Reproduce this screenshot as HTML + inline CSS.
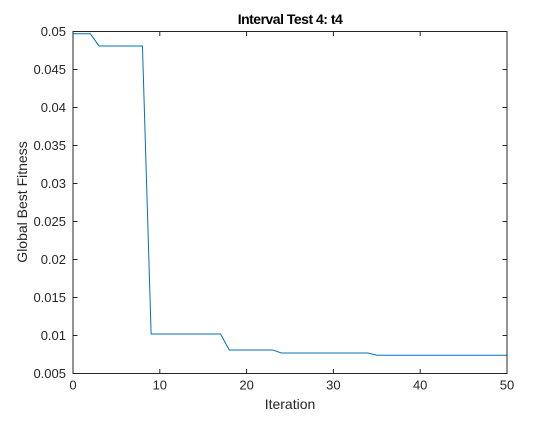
<!DOCTYPE html>
<html><head><meta charset="utf-8"><style>
body{margin:0;background:#fff;width:560px;height:420px;overflow:hidden}
svg text{font-family:"Liberation Sans",Arial,sans-serif}
</style></head><body>
<svg id="chart" width="560" height="420" xmlns="http://www.w3.org/2000/svg">
<rect x="0" y="0" width="560" height="420" fill="#fff"/>
<g id="ticks"></g>
<polyline id="series" fill="none" stroke="#0072bd" stroke-width="1"/>
<rect x="73" y="31.5" width="434" height="342" fill="none" stroke="#262626" stroke-width="1"/>
<text x="290" y="24" font-size="14" font-weight="bold" text-anchor="middle" fill="#000" letter-spacing="-0.5">Interval Test 4: t4</text>
<text x="290" y="409" font-size="14" text-anchor="middle" fill="#262626">Iteration</text>
<text transform="translate(27,202) rotate(-90)" font-size="14" text-anchor="middle" fill="#262626">Global Best Fitness</text>
</svg>
<script>
const iterations=[0,1,2,3,4,5,6,7,8,9,10,11,12,13,14,15,16,17,18,19,20,21,22,23,24,25,26,27,28,29,30,31,32,33,34,35,36,37,38,39,40,41,42,43,44,45,46,47,48,49,50];
const fitness=[0.0497,0.0497,0.0497,0.0481,0.0481,0.0481,0.0481,0.0481,0.0481,0.0102,0.0102,0.0102,0.0102,0.0102,0.0102,0.0102,0.0102,0.0102,0.0081,0.0081,0.0081,0.0081,0.0081,0.0081,0.0077,0.0077,0.0077,0.0077,0.0077,0.0077,0.0077,0.0077,0.0077,0.0077,0.0077,0.0074,0.0074,0.0074,0.0074,0.0074,0.0074,0.0074,0.0074,0.0074,0.0074,0.0074,0.0074,0.0074,0.0074,0.0074,0.0074];
const xTicks=[0,10,20,30,40,50];
const yTicks=[0.005,0.01,0.015,0.02,0.025,0.03,0.035,0.04,0.045,0.05];
const yTickLabels=["0.005","0.01","0.015","0.02","0.025","0.03","0.035","0.04","0.045","0.05"];
const X0=73,X1=507,Y0=373.5,Y1=31.5;
const sx=v=>X0+(v-0)/(50-0)*(X1-X0);
const sy=v=>Y0-(v-0.005)/(0.05-0.005)*(Y0-Y1);
const NS="http://www.w3.org/2000/svg";
const g=document.getElementById('ticks');
function mk(t,a){const e=document.createElementNS(NS,t);for(const k in a)e.setAttribute(k,a[k]);g.appendChild(e);return e;}
xTicks.forEach(v=>{const x=sx(v);
 const t1=mk('line',{x1:x,x2:x,y1:Y0,y2:Y0-4.5,stroke:'#262626'});
 
 
 const t2=mk('line',{x1:x,x2:x,y1:Y1,y2:Y1+4.5,stroke:'#262626'});
 
 
 const l=mk('text',{x:x,y:Y0+16,'font-size':13,'text-anchor':'middle',fill:'#262626'});l.textContent=v;
 
 
});
yTicks.forEach((v,i)=>{const y=sy(v);
 const t1=mk('line',{x1:X0,x2:X0+4.5,y1:y,y2:y,stroke:'#262626'});
 
 
 const t2=mk('line',{x1:X1,x2:X1-4.5,y1:y,y2:y,stroke:'#262626'});
 
 
 const l=mk('text',{x:X0-7,y:y+4.5,'font-size':13,'text-anchor':'end',fill:'#262626'});l.textContent=yTickLabels[i];
 
 
});
document.getElementById('series').setAttribute('points',iterations.map((it,i)=>sx(it)+','+sy(fitness[i])).join(' '));
</script>
</body></html>
